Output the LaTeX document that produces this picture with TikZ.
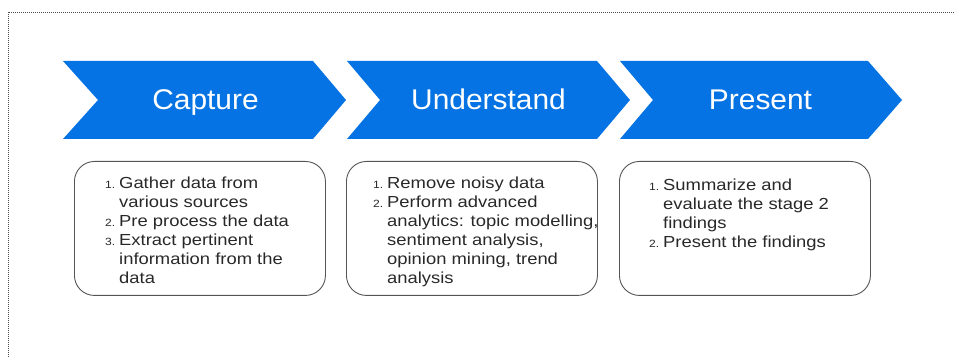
\documentclass[tikz,border=0pt]{standalone}
\usepackage{fontspec}
\newfontfamily\headfont[FakeStretch=1.05]{Liberation Sans}
\newfontfamily\bodyfont[FakeStretch=1.15]{Liberation Sans}
\definecolor{chev}{RGB}{6,115,228}
\definecolor{txt}{RGB}{40,40,40}
\definecolor{bord}{RGB}{85,85,85}
\newcommand{\nm}[1]{\makebox[14pt][l]{\fontsize{10.5}{19}\selectfont #1}}
\newcommand{\ind}{\hspace*{14pt}}
\begin{document}
\begin{tikzpicture}[x=1pt,y=-1pt,
  chevron/.style={fill=chev, draw=none},
  stagelabel/.style={text=white, font=\headfont\fontsize{28.5}{30}\selectfont, inner sep=0, anchor=base},
  stepbox/.style={draw=bord, line width=0.9pt, rounded corners=20pt, minimum width=251pt, minimum height=134pt, anchor=north west, inner sep=0},
  steptext/.style={anchor=north west, inner sep=0, align=left, text=txt, font=\bodyfont\fontsize{16}{19}\selectfont},
  frameline/.style={draw=black!70, dash pattern=on 1pt off 1pt, line width=0.9pt}]
\useasboundingbox (0,0) rectangle (954,358);
% frame
\coordinate (fr1) at (956,12);
\coordinate (fr2) at (8,12);
\coordinate (fr3) at (8,360);
\draw[frameline] (fr1) -- (fr2) -- (fr3);
% chevrons
\fill[chevron] (63,61) -- (313,61) -- (346,100) -- (313,139) -- (63,139) -- (98,100) -- cycle;
\fill[chevron] (347,61) -- (597,61) -- (630,100) -- (597,139) -- (347,139) -- (380,100) -- cycle;
\fill[chevron] (620,61) -- (868,61) -- (902,100) -- (868,139) -- (620,139) -- (653,100) -- cycle;
\node[stagelabel] (capture) at (205.5,110) {Capture};
\node[stagelabel] (understand) at (488.5,110) {Understand};
\node[stagelabel] (present) at (760.5,110) {Present};
% boxes
\node[stepbox] (box1) at (74,161) {};
\node[stepbox] (box2) at (346,161) {};
\node[stepbox] (box3) at (619,161) {};
% texts
\node[steptext] (t1) at (105,176.3) {\nm{1.}Gather data from\\ \ind various sources\\ \nm{2.}Pre process the data\\ \nm{3.}Extract pertinent\\ \ind information from the\\ \ind data};
\node[steptext] (t2) at (373,176.3) {\nm{1.}Remove noisy data\\ \nm{2.}Perform advanced\\ \ind analytics: topic modelling,\\ \ind sentiment analysis,\\ \ind opinion mining, trend\\ \ind analysis};
\node[steptext] (t3) at (649,179) {\nm{1.}Summarize and\\ \ind evaluate the stage 2\\ \ind findings\\ \nm{2.}Present the findings};
\end{tikzpicture}
\end{document}
